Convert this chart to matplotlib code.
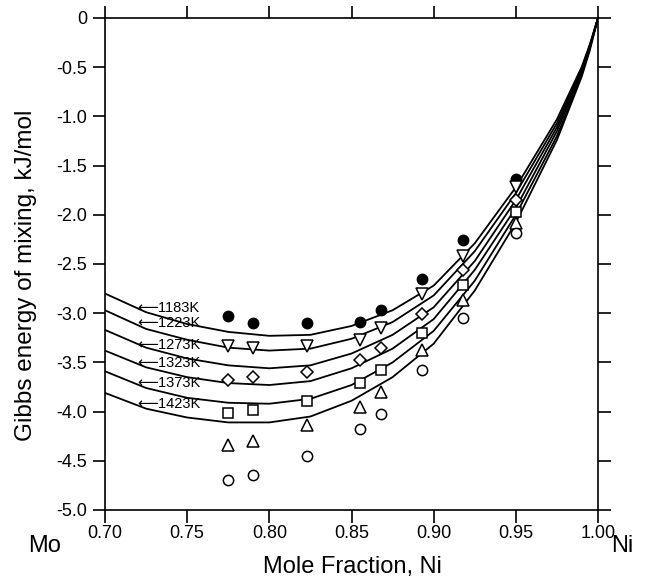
import matplotlib
matplotlib.use("Agg")
import matplotlib.pyplot as plt

plt.rcParams['font.family'] = ['Liberation Sans', 'DejaVu Sans']

# ---- data -----------------------------------------------------------
temps = ["1183K", "1223K", "1273K", "1323K", "1373K", "1423K"]

x_exp = [0.775, 0.79, 0.823, 0.855, 0.868, 0.893, 0.918, 0.95]
g_1183 = [-3.03, -3.10, -3.10, -3.09, -2.97, -2.65, -2.26, -1.64]
g_1223 = [-3.33, -3.35, -3.33, -3.27, -3.15, -2.80, -2.42, -1.72]
g_1273 = [-3.68, -3.65, -3.60, -3.48, -3.35, -3.01, -2.56, -1.85]
g_1323 = [-4.01, -3.98, -3.89, -3.71, -3.58, -3.20, -2.71, -1.97]
g_1373 = [-4.34, -4.30, -4.14, -3.95, -3.80, -3.37, -2.87, -2.08]
g_1423 = [-4.70, -4.64, -4.45, -4.18, -4.02, -3.58, -3.05, -2.18]

x_calc = [0.70, 0.725, 0.75, 0.775, 0.80, 0.825, 0.85, 0.875, 0.90,
          0.925, 0.95, 0.975, 0.99, 0.995, 1.00]
c_1183 = [-2.80, -2.99, -3.11, -3.19, -3.23, -3.22, -3.13, -2.97, -2.72,
          -2.29, -1.72, -1.03, -0.50, -0.27, 0.0]
c_1223 = [-2.97, -3.16, -3.27, -3.35, -3.38, -3.36, -3.26, -3.09, -2.82,
          -2.37, -1.78, -1.07, -0.52, -0.28, 0.0]
c_1273 = [-3.17, -3.35, -3.46, -3.53, -3.56, -3.53, -3.41, -3.22, -2.94,
          -2.47, -1.85, -1.11, -0.54, -0.29, 0.0]
c_1323 = [-3.38, -3.55, -3.65, -3.71, -3.73, -3.69, -3.56, -3.36, -3.06,
          -2.56, -1.93, -1.15, -0.56, -0.30, 0.0]
c_1373 = [-3.59, -3.76, -3.86, -3.91, -3.92, -3.87, -3.73, -3.50, -3.18,
          -2.67, -2.00, -1.20, -0.58, -0.31, 0.0]
c_1423 = [-3.81, -3.97, -4.06, -4.11, -4.11, -4.05, -3.89, -3.65, -3.31,
          -2.77, -2.08, -1.24, -0.60, -0.33, 0.0]

label_y = [-2.945, -3.10, -3.32, -3.51, -3.71, -3.92]

x_ticks = [0.70, 0.75, 0.80, 0.85, 0.90, 0.95, 1.00]
x_ticklabels = ["0.70", "0.75", "0.80", "0.85", "0.90", "0.95", "1.00"]
y_ticks = [0, -0.5, -1.0, -1.5, -2.0, -2.5, -3.0, -3.5, -4.0, -4.5, -5.0]
y_ticklabels = ["0", "-0.5", "-1.0", "-1.5", "-2.0", "-2.5", "-3.0",
                "-3.5", "-4.0", "-4.5", "-5.0"]

# ---- figure ---------------------------------------------------------
W, H = 650, 583
fig = plt.figure(figsize=(6.5, 5.83), dpi=100)
ax = fig.add_axes([105/W, 1-510/H, (598-105)/W, (510-18)/H])

curves = [c_1183, c_1223, c_1273, c_1323, c_1373, c_1423]
for c in curves:
    ax.plot(x_calc, c, color='black', lw=1.3, zorder=2)

exp = [g_1183, g_1223, g_1273, g_1323, g_1373, g_1423]
mk = ['o', 'v', 'D', 's', '^', 'o']
ms = [7.4, 8.0, 6.6, 7.2, 8.0, 7.4]
fc = ['black', 'white', 'white', 'white', 'white', 'white']
for g, m, s, f in zip(exp, mk, ms, fc):
    ax.plot(x_exp, g, linestyle='none', marker=m, ms=s, mfc=f,
            mec='black', mew=1.1, zorder=3)

for t, yl in zip(temps, label_y):
    ax.text(0.7195, yl, "\u27f5" + t, fontsize=10.5, va='center', ha='left',
            family=['Liberation Sans', 'DejaVu Sans'], zorder=4)

ax.set_xlim(0.70, 1.00)
ax.set_ylim(-5.0, 0.0)
ax.set_xticks(x_ticks)
ax.set_xticklabels(x_ticklabels)
ax.set_yticks(y_ticks)
ax.set_yticklabels(y_ticklabels)
ax.tick_params(direction='out', length=9, width=1.2, labelsize=13,
               top=True, right=True, labeltop=False, labelright=False,
               pad=4, color='black')
ax.tick_params(axis='x', pad=1.5)
for sp in ax.spines.values():
    sp.set_linewidth(1.2)

fig.text(26/W, 1-275/H, "Gibbs energy of mixing, kJ/mol", fontsize=17.5,
         rotation=90, ha='center', va='center')
fig.text(352/W, 1-567/H, "Mole Fraction, Ni", fontsize=17,
         ha='center', va='center')
fig.text(45/W, 1-546/H, "Mo", fontsize=17, ha='center', va='center')
fig.text(622/W, 1-546/H, "Ni", fontsize=17, ha='center', va='center')

fig.savefig("out.png", dpi=100)
